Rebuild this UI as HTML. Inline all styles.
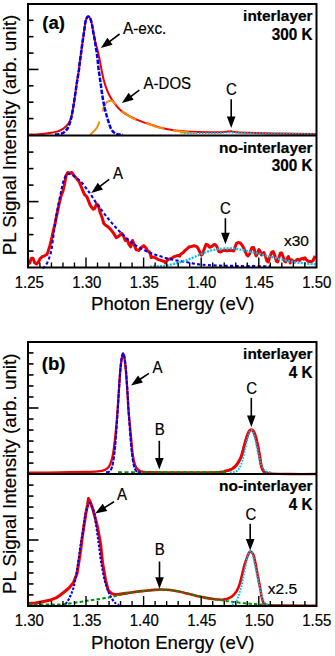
<!DOCTYPE html>
<html><head><meta charset="utf-8"><style>
html,body{margin:0;padding:0;background:#fff;}
svg{display:block;}
text{font-family:"Liberation Sans",sans-serif;fill:#000;stroke:#000;stroke-width:0.2px;}
</style></head><body>
<svg width="335" height="656" viewBox="0 0 335 656">
<rect x="0" y="0" width="335" height="656" fill="#fff"/>
<path d="M28.50,134.50 C29.75,134.48 33.70,134.50 36.00,134.40 C38.30,134.30 40.05,134.13 42.30,133.90 C44.55,133.67 47.03,133.38 49.50,133.00 C51.97,132.62 54.78,132.33 57.10,131.60 C59.42,130.87 61.48,129.98 63.40,128.60 C65.32,127.22 67.22,125.48 68.60,123.30 C69.98,121.12 70.87,118.55 71.70,115.50 C72.53,112.45 73.08,108.05 73.60,105.00 C74.12,101.95 74.25,100.95 74.80,97.20 C75.35,93.45 76.20,87.15 76.90,82.50 C77.60,77.85 78.52,72.70 79.00,69.30 C79.48,65.90 79.47,64.68 79.80,62.10 C80.13,59.52 80.65,56.38 81.00,53.80 C81.35,51.22 81.55,49.18 81.90,46.60 C82.25,44.02 82.70,41.08 83.10,38.30 C83.50,35.52 83.90,32.68 84.30,29.90 C84.70,27.12 85.05,23.67 85.50,21.60 C85.95,19.53 86.55,18.33 87.00,17.50 C87.45,16.67 87.82,16.65 88.20,16.60 C88.58,16.55 88.92,16.77 89.30,17.20 C89.68,17.63 90.03,17.88 90.50,19.20 C90.97,20.52 91.63,22.92 92.10,25.10 C92.57,27.28 92.87,29.90 93.30,32.30 C93.73,34.70 94.15,37.12 94.70,39.50 C95.25,41.88 95.98,44.22 96.60,46.60 C97.22,48.98 97.82,51.22 98.40,53.80 C98.98,56.38 99.57,59.40 100.10,62.10 C100.63,64.80 101.02,67.12 101.60,70.00 C102.18,72.88 102.70,76.03 103.60,79.40 C104.50,82.77 105.68,86.92 107.00,90.20 C108.32,93.48 109.85,96.42 111.50,99.10 C113.15,101.78 115.12,104.22 116.90,106.30 C118.68,108.38 120.12,109.97 122.20,111.60 C124.28,113.23 127.00,114.75 129.40,116.10 C131.80,117.45 134.22,118.65 136.60,119.70 C138.98,120.75 141.47,121.65 143.70,122.40 C145.93,123.15 147.40,123.37 150.00,124.20 C152.60,125.03 155.02,126.33 159.30,127.40 C163.58,128.47 170.25,129.87 175.70,130.60 C181.15,131.33 186.28,131.53 192.00,131.80 C197.72,132.07 205.00,132.13 210.00,132.20 C215.00,132.27 219.00,132.30 222.00,132.20 C225.00,132.10 226.33,131.73 228.00,131.60 C229.67,131.47 230.67,131.28 232.00,131.40 C233.33,131.52 233.00,132.07 236.00,132.30 C239.00,132.53 242.67,132.60 250.00,132.80 C257.33,133.00 269.00,133.30 280.00,133.50 C291.00,133.70 310.00,133.92 316.00,134.00" fill="none" stroke="#ee0000" stroke-width="2.0" stroke-linejoin="round" stroke-linecap="butt" />
<path d="M90.30,134.50 L90.38,134.43 L90.47,134.34 L90.57,134.24 L90.68,134.13 L90.81,134.02 L90.94,133.89 L91.08,133.75 L91.23,133.61 L91.38,133.47 L91.54,133.32 L91.70,133.16 L91.86,133.01 L92.03,132.85 L92.19,132.70 L92.34,132.55 L92.50,132.40 L92.66,132.25 L92.82,132.11 L92.98,131.96 L93.15,131.81 L93.32,131.65 L93.49,131.50 L93.66,131.35 L93.84,131.19 L94.01,131.03 L94.19,130.86 L94.36,130.70 L94.53,130.53 L94.71,130.35 L94.87,130.17 L95.04,129.99 L95.20,129.80 L95.36,129.61 L95.52,129.42 L95.68,129.22 L95.84,129.02 L95.99,128.82 L96.15,128.61 L96.30,128.41 L96.46,128.19 L96.61,127.98 L96.76,127.75 L96.90,127.53 L97.05,127.29 L97.19,127.06 L97.33,126.81 L97.47,126.56 L97.60,126.30 L97.73,126.03 L97.85,125.75 L97.98,125.47 L98.09,125.17 L98.21,124.87 L98.32,124.57 L98.43,124.25 L98.54,123.94 L98.65,123.62 L98.76,123.30 L98.87,122.98 L98.97,122.66 L99.08,122.34 L99.18,122.02 L99.29,121.71 L99.40,121.40 M102.60,111.60 L102.68,111.30 L102.76,111.00 L102.84,110.70 L102.91,110.41 L102.97,110.11 L103.04,109.81 L103.11,109.52 L103.17,109.22 L103.25,108.93 L103.32,108.64 L103.40,108.35 L103.48,108.06 L103.57,107.77 L103.67,107.48 L103.78,107.19 L103.90,106.90 L104.03,106.61 L104.16,106.31 L104.31,106.00 L104.46,105.69 L104.61,105.38 L104.77,105.07 L104.94,104.76 L105.11,104.46 L105.28,104.16 L105.46,103.87 L105.64,103.59 L105.83,103.32 L106.02,103.06 L106.21,102.82 L106.40,102.60 L106.60,102.40 L106.80,102.22 L107.01,102.05 L107.23,101.89 L107.46,101.74 L107.69,101.61 L107.92,101.49 L108.16,101.38 L108.40,101.28 L108.64,101.19 L108.88,101.11 L109.11,101.04 L109.34,100.98 L109.57,100.92 L109.79,100.87 L110.00,100.83 L110.20,100.80 L110.39,100.77 L110.57,100.74 L110.74,100.72 L110.91,100.71 L111.07,100.70 L111.22,100.70 L111.37,100.71 L111.53,100.72 L111.68,100.76 L111.83,100.80 L111.99,100.86 L112.15,100.93 L112.33,101.02 L112.51,101.13 L112.70,101.25 L112.90,101.40 L113.11,101.57 L113.33,101.76 L113.55,101.97 L113.78,102.20 L114.01,102.45 L114.25,102.72 L114.49,103.00 L114.74,103.29 L114.99,103.59 L115.25,103.90 L115.51,104.21 L115.78,104.53 M121.81,111.07 L122.20,111.40 L122.60,111.73 L123.01,112.05 L123.43,112.38 L123.87,112.70 L124.31,113.03 L124.76,113.35 L125.22,113.66 L125.68,113.98 L126.15,114.28 L126.62,114.59 L127.09,114.89 L127.56,115.18 L128.02,115.47 L128.49,115.75 L128.95,116.03 L129.40,116.30 L129.85,116.56 L130.30,116.82 L130.75,117.07 L131.20,117.31 L131.65,117.55 L132.10,117.78 L132.56,118.01 L133.01,118.24 L133.46,118.46 L133.91,118.67 L134.36,118.89 L134.81,119.09 L135.26,119.30 L135.70,119.50 L136.15,119.70 M145.63,123.21 L145.99,123.31 L146.35,123.42 L146.71,123.52 L147.08,123.62 L147.45,123.73 L147.84,123.84 L148.23,123.95 L148.64,124.07 L149.07,124.21 L149.53,124.35 L150.00,124.50 L150.49,124.66 L150.97,124.84 L151.46,125.02 L151.95,125.21 L152.45,125.41 L152.96,125.61 L153.48,125.82 L154.02,126.03 L154.58,126.24 L155.16,126.45 L155.77,126.66 L156.41,126.88 L157.07,127.09 L157.78,127.30 L158.52,127.50 L159.30,127.70 L160.14,127.90 L161.04,128.11 L161.99,128.32 L163.00,128.53 L164.04,128.74 M172.78,130.34 L173.80,130.51 L174.77,130.66 L175.70,130.80 L176.60,130.93 L177.49,131.04 L178.38,131.14 L179.26,131.24 L180.13,131.32 L180.98,131.40 L181.81,131.47 L182.62,131.53 L183.41,131.59 L184.18,131.64 L184.91,131.69 L185.60,131.74 L186.27,131.78 L186.89,131.82 L187.47,131.86 L188.00,131.90 L188.46,131.94 " fill="none" stroke="#ff8a00" stroke-width="2.0" stroke-linejoin="round" stroke-linecap="butt" />
<path d="M180,132.8 L197,133.0" fill="none" stroke="#ff8a00" stroke-width="1.5" stroke-linejoin="round" stroke-linecap="butt" />
<path d="M55.00,134.60 C55.70,134.53 57.80,134.52 59.20,134.20 C60.60,133.88 62.02,133.65 63.40,132.70 C64.78,131.75 66.28,130.60 67.50,128.50 C68.72,126.40 69.82,123.23 70.70,120.10 C71.58,116.97 72.12,113.52 72.80,109.70 C73.48,105.88 74.12,101.73 74.80,97.20 C75.48,92.67 76.20,87.15 76.90,82.50 C77.60,77.85 78.52,72.70 79.00,69.30 C79.48,65.90 79.47,64.68 79.80,62.10 C80.13,59.52 80.65,56.38 81.00,53.80 C81.35,51.22 81.55,49.18 81.90,46.60 C82.25,44.02 82.70,41.08 83.10,38.30 C83.50,35.52 83.90,32.68 84.30,29.90 C84.70,27.12 85.05,23.67 85.50,21.60 C85.95,19.53 86.55,18.33 87.00,17.50 C87.45,16.67 87.82,16.65 88.20,16.60 C88.58,16.55 88.92,16.77 89.30,17.20 C89.68,17.63 90.03,17.88 90.50,19.20 C90.97,20.52 91.63,22.92 92.10,25.10 C92.57,27.28 92.87,29.90 93.30,32.30 C93.73,34.70 94.30,37.12 94.70,39.50 C95.10,41.88 95.33,44.22 95.70,46.60 C96.07,48.98 96.57,51.40 96.90,53.80 C97.23,56.20 97.42,58.47 97.70,61.00 C97.98,63.53 98.13,65.42 98.60,69.00 C99.07,72.58 99.83,77.80 100.50,82.50 C101.17,87.20 101.83,92.67 102.60,97.20 C103.37,101.73 104.15,105.70 105.10,109.70 C106.05,113.70 107.25,117.90 108.30,121.20 C109.35,124.50 110.18,127.42 111.40,129.50 C112.62,131.58 114.20,132.85 115.60,133.70 C117.00,134.55 118.57,134.38 119.80,134.60 C121.03,134.82 122.47,134.93 123.00,135.00" fill="none" stroke="#0000ee" stroke-width="2.5" stroke-linejoin="round" stroke-linecap="butt" stroke-dasharray="4.5,1.5" />
<path d="M184.00,133.20 L185.00,133.20 L186.00,133.20 L187.00,133.20 L188.00,133.20 L189.00,133.20 L190.00,133.20 L191.00,133.20 L192.00,133.20 L193.00,133.20 L194.00,133.20 L195.00,133.20 L196.00,133.20 L197.00,133.20 L198.00,133.20 L199.00,133.20 L200.00,133.20 L201.00,133.20 L202.00,133.20 L203.00,133.20 L204.00,133.20 L205.00,133.20 L206.00,133.19 L207.00,133.19 L208.00,133.19 L209.00,133.18 L210.00,133.18 L211.00,133.17 L212.00,133.16 L213.00,133.14 L214.00,133.13 L215.00,133.11 L216.00,133.08 L217.00,133.05 L218.00,133.01 L219.00,132.97 L220.00,132.93 L221.00,132.88 L222.00,132.83 L223.00,132.78 L224.00,132.72 L225.00,132.67 L226.00,132.62 L227.00,132.58 L228.00,132.55 L229.00,132.52 L230.00,132.51 L231.00,132.50 L232.00,132.51 L233.00,132.52 L234.00,132.55 L235.00,132.58 L236.00,132.62 L237.00,132.67 L238.00,132.72 L239.00,132.78 L240.00,132.83 L241.00,132.88 L242.00,132.93 L243.00,132.97 L244.00,133.01 L245.00,133.05 L246.00,133.08 L247.00,133.11 L248.00,133.13 L249.00,133.14 L250.00,133.16 L251.00,133.18 L252.00,133.20 L253.00,133.22 L254.00,133.24 L255.00,133.26 L256.00,133.28 L257.00,133.29 L258.00,133.31 L259.00,133.32 L260.00,133.34 L261.00,133.35 L262.00,133.36 L263.00,133.38 L264.00,133.39 L265.00,133.40 L266.00,133.42 L267.00,133.43 L268.00,133.45 L269.00,133.46 L270.00,133.47 L271.00,133.49 L272.00,133.50 L273.00,133.51 L274.00,133.53 L275.00,133.54 L276.00,133.55 L277.00,133.57 L278.00,133.58 L279.00,133.60 L280.00,133.61 L281.00,133.62 L282.00,133.64 L283.00,133.65 L284.00,133.66 L285.00,133.68 L286.00,133.69 L287.00,133.70 L288.00,133.72 L289.00,133.73 L290.00,133.75 L291.00,133.76 L292.00,133.77 L293.00,133.79 L294.00,133.80 L295.00,133.81 L296.00,133.83 L297.00,133.84 L298.00,133.85 L299.00,133.87 L300.00,133.88 L301.00,133.90 L302.00,133.91 L303.00,133.92 L304.00,133.94 L305.00,133.95 L306.00,133.96 L307.00,133.98 L308.00,133.99 L309.00,134.00 L310.00,134.02 L311.00,134.03 L312.00,134.05 L313.00,134.06 L314.00,134.07 L315.00,134.09 L316.00,134.10" fill="none" stroke="#00c0f8" stroke-width="1.8" stroke-linejoin="round" stroke-linecap="butt" stroke-dasharray="1.5,1.5" />
<path d="M28.50,263.50 L29.80,263.00 L31.20,258.50 L33.00,258.20 L34.80,263.00 L36.60,263.90 L38.40,262.00 L40.20,258.50 L42.30,256.60 L44.50,255.80 L46.90,254.50 L48.10,251.50 L49.90,245.60 L52.10,236.50 L53.50,229.90 L54.90,224.50 L56.70,215.50 L59.30,203.00 L61.10,195.80 L62.90,191.30 L64.70,183.30 L66.20,175.20 L67.80,172.50 L70.10,173.10 L71.90,172.50 L73.70,175.20 L76.00,177.90 L79.00,181.50 L81.70,187.80 L84.40,194.40 L86.80,196.60 L88.60,201.10 L90.40,205.60 L93.10,209.20 L94.90,208.30 L96.60,203.80 L98.40,205.60 L100.20,212.80 L102.00,217.20 L103.80,223.50 L105.60,225.30 L108.30,227.10 L111.00,229.80 L113.70,233.40 L116.30,237.80 L119.00,236.00 L121.70,233.40 L123.50,236.00 L125.30,240.50 L127.10,239.60 L128.90,244.10 L130.70,246.80 L132.50,240.50 L134.30,245.00 L136.00,249.50 L138.70,250.40 L141.50,247.20 L143.70,245.70 L146.00,247.90 L147.50,250.90 L149.00,251.60 L150.40,253.90 L151.20,257.60 L152.70,256.90 L154.90,257.60 L157.20,259.10 L159.40,259.90 L161.60,260.60 L163.90,261.30 L165.40,262.80 L166.90,260.60 L169.10,259.10 L171.30,258.40 L173.60,256.90 L175.80,256.10 L178.10,255.40 L179.60,256.10 L181.00,253.90 L183.30,252.40 L185.50,250.10 L187.80,248.20 L189.50,246.70 L191.70,246.40 L194.00,245.70 L196.00,246.10 L197.80,247.90 L199.60,251.50 L201.40,255.10 L202.60,253.90 L204.40,248.50 L206.10,244.40 L207.90,245.00 L209.70,247.30 L211.50,246.70 L213.30,245.00 L215.10,244.40 L216.90,246.70 L218.70,251.50 L220.50,252.10 L222.30,250.90 L224.70,250.30 L227.00,250.90 L229.40,250.30 L231.80,250.50 L233.80,251.00 L235.10,247.00 L236.50,243.40 L238.30,242.50 L240.10,242.90 L241.80,244.70 L243.60,247.80 L245.40,251.90 L246.80,255.00 L248.10,255.90 L249.50,254.10 L250.80,250.50 L252.10,247.40 L253.50,247.40 L254.40,249.60 L255.30,253.70 L256.20,255.90 L257.50,253.20 L258.90,249.60 L260.20,251.40 L261.50,255.00 L262.60,253.20 L263.80,252.50 L265.60,256.50 L266.90,261.00 L268.30,261.90 L269.60,257.40 L271.80,252.10 L273.20,251.60 L274.50,254.70 L276.30,261.00 L277.70,261.90 L279.00,257.40 L280.40,253.00 L281.70,253.00 L283.00,256.50 L284.40,261.00 L285.70,261.90 L287.10,258.80 L288.40,256.50 L289.50,259.20 L290.20,263.00 L291.60,259.70 L292.90,261.00 L294.30,261.90 L295.60,261.00 L297.00,259.70 L298.30,259.20 L299.60,260.60 L301.00,258.80 L302.30,258.30 L303.70,259.20 L305.00,257.90 L306.40,259.70 L307.70,261.00 L309.00,261.50 L310.40,261.50 L311.70,261.50 L313.10,260.60 L314.00,258.30 L315.20,255.80" fill="none" stroke="#ee0000" stroke-width="3.0" stroke-linejoin="round" stroke-linecap="butt" />
<path d="M42.50,268.20 C42.83,268.00 43.82,267.70 44.50,267.00 C45.18,266.30 45.92,265.23 46.60,264.00 C47.28,262.77 47.82,261.87 48.60,259.60 C49.38,257.33 50.40,255.07 51.30,250.40 C52.20,245.73 53.10,237.72 54.00,231.60 C54.90,225.48 55.67,219.67 56.70,213.70 C57.73,207.73 59.17,200.87 60.20,195.80 C61.23,190.73 62.00,186.58 62.90,183.30 C63.80,180.02 64.70,177.65 65.60,176.10 C66.50,174.55 67.25,174.23 68.30,174.00 C69.35,173.77 70.55,174.05 71.90,174.70 C73.25,175.35 74.77,176.62 76.40,177.90 C78.03,179.18 79.92,180.45 81.70,182.40 C83.48,184.35 85.65,187.67 87.10,189.60 C88.55,191.53 88.97,191.92 90.40,194.00 C91.83,196.08 93.62,199.12 95.70,202.10 C97.78,205.08 100.50,208.77 102.90,211.90 C105.30,215.03 107.72,218.05 110.10,220.90 C112.48,223.75 114.82,226.47 117.20,229.00 C119.58,231.53 122.00,233.87 124.40,236.10 C126.80,238.33 129.22,240.52 131.60,242.40 C133.98,244.28 136.05,245.87 138.70,247.40 C141.35,248.93 144.80,250.40 147.50,251.60 C150.20,252.80 152.42,253.72 154.90,254.60 C157.38,255.48 159.90,256.15 162.40,256.90 C164.90,257.65 167.42,258.48 169.90,259.10 C172.38,259.72 174.82,260.15 177.30,260.60 C179.78,261.05 182.27,261.33 184.80,261.80 C187.33,262.27 189.98,262.95 192.50,263.40 C195.02,263.85 197.42,264.22 199.90,264.50 C202.38,264.78 203.67,264.90 207.40,265.10 C211.13,265.30 216.87,265.55 222.30,265.70 C227.73,265.85 232.05,265.90 240.00,266.00 C247.95,266.10 265.00,266.25 270.00,266.30" fill="none" stroke="#0000ee" stroke-width="2.1" stroke-linejoin="round" stroke-linecap="butt" stroke-dasharray="3.2,2.3" />
<path d="M150.00,266.60 C151.67,266.53 156.93,266.45 160.00,266.20 C163.07,265.95 165.52,265.62 168.40,265.10 C171.28,264.58 174.57,263.82 177.30,263.10 C180.03,262.38 182.27,261.68 184.80,260.80 C187.33,259.92 189.98,258.83 192.50,257.80 C195.02,256.77 197.42,255.63 199.90,254.60 C202.38,253.57 204.90,252.43 207.40,251.60 C209.90,250.77 212.42,250.10 214.90,249.60 C217.38,249.10 219.82,248.80 222.30,248.60 C224.78,248.40 227.68,248.38 229.80,248.40 C231.92,248.42 233.43,248.53 235.00,248.70 C236.57,248.87 237.37,249.05 239.20,249.40 C241.03,249.75 243.63,250.30 246.00,250.80 C248.37,251.30 251.07,251.87 253.40,252.40 C255.73,252.93 257.65,253.42 260.00,254.00 C262.35,254.58 265.00,255.25 267.50,255.90 C270.00,256.55 272.10,257.18 275.00,257.90 C277.90,258.62 282.07,259.57 284.90,260.20 C287.73,260.83 289.50,261.27 292.00,261.70 C294.50,262.13 297.40,262.48 299.90,262.80 C302.40,263.12 304.40,263.35 307.00,263.60 C309.60,263.85 314.08,264.18 315.50,264.30" fill="none" stroke="#00c0f8" stroke-width="2.3" stroke-linejoin="round" stroke-linecap="butt" stroke-dasharray="2,1.3" />
<path d="M28.50,472.70 C33.75,472.65 49.75,472.53 60.00,472.40 C70.25,472.27 83.33,472.10 90.00,471.90 C96.67,471.70 97.47,471.57 100.00,471.20 C102.53,470.83 103.70,470.45 105.20,469.70 C106.70,468.95 107.88,468.43 109.00,466.70 C110.12,464.97 111.17,461.78 111.90,459.30 C112.63,456.82 112.90,455.03 113.40,451.80 C113.90,448.57 114.40,444.38 114.90,439.90 C115.40,435.42 115.95,429.88 116.40,424.90 C116.85,419.92 117.20,415.48 117.60,410.00 C118.00,404.52 118.35,398.67 118.80,392.00 C119.25,385.33 119.82,375.50 120.30,370.00 C120.78,364.50 121.22,361.77 121.70,359.00 C122.18,356.23 122.68,353.40 123.15,353.40 C123.62,353.40 124.06,356.23 124.50,359.00 C124.94,361.77 125.32,364.50 125.80,370.00 C126.28,375.50 126.97,385.33 127.40,392.00 C127.83,398.67 127.98,404.52 128.40,410.00 C128.82,415.48 129.42,419.92 129.90,424.90 C130.38,429.88 130.82,434.92 131.30,439.90 C131.78,444.88 132.17,450.58 132.80,454.80 C133.43,459.02 134.22,462.72 135.10,465.20 C135.98,467.68 136.98,468.65 138.10,469.70 C139.22,470.75 139.82,471.08 141.80,471.50 C143.78,471.92 143.63,472.05 150.00,472.20 C156.37,472.35 170.00,472.37 180.00,472.40 C190.00,472.43 203.67,472.43 210.00,472.40 C216.33,472.37 215.83,472.33 218.00,472.20 C220.17,472.07 221.08,471.97 223.00,471.60 C224.92,471.23 227.75,470.63 229.50,470.00 C231.25,469.37 232.22,468.80 233.50,467.80 C234.78,466.80 235.92,465.88 237.20,464.00 C238.48,462.12 239.98,459.68 241.20,456.50 C242.42,453.32 243.48,448.40 244.50,444.90 C245.52,441.40 246.50,437.78 247.30,435.50 C248.10,433.22 248.63,432.15 249.30,431.20 C249.97,430.25 250.63,429.80 251.30,429.80 C251.97,429.80 252.65,430.25 253.30,431.20 C253.95,432.15 254.48,433.22 255.20,435.50 C255.92,437.78 256.88,441.60 257.60,444.90 C258.32,448.20 258.88,451.83 259.50,455.30 C260.12,458.77 260.63,463.08 261.30,465.70 C261.97,468.32 262.72,469.90 263.50,471.00 C264.28,472.10 264.58,471.87 266.00,472.30 C267.42,472.73 268.00,473.32 272.00,473.60 C276.00,473.88 282.67,473.93 290.00,474.00 C297.33,474.07 311.67,474.00 316.00,474.00" fill="none" stroke="#ee0000" stroke-width="2.3" stroke-linejoin="round" stroke-linecap="butt" />
<path d="M224.03,471.40 L224.58,471.28 L225.15,471.16 L225.73,471.03 L226.31,470.90 L226.89,470.76 L227.46,470.61 L228.02,470.47 L228.54,470.31 L229.04,470.16 L229.50,470.00 L229.92,469.84 L230.31,469.69 L230.68,469.53 L231.03,469.37 L231.36,469.21 L231.67,469.04 L231.98,468.86 L232.28,468.67 L232.58,468.48 L232.88,468.27 L233.19,468.04 L233.50,467.80 L233.82,467.55 L234.13,467.30 L234.44,467.05 L234.74,466.79 L235.05,466.52 L235.35,466.23 L235.65,465.93 L235.96,465.60 L236.26,465.25 L236.57,464.87 L236.88,464.45 L237.20,464.00 L237.53,463.52 L237.86,463.01 L238.20,462.48 L238.54,461.93 L238.88,461.34 L239.22,460.74 L239.57,460.10 L239.91,459.44 L240.24,458.75 L240.57,458.03 L240.89,457.28 L241.20,456.50 L241.50,455.67 L241.80,454.78 L242.09,453.84 L242.37,452.86 L242.65,451.85 L242.92,450.82 L243.20,449.78 L243.46,448.76 L243.73,447.74 L243.99,446.75 L244.24,445.80 L244.50,444.90 L244.75,444.02 L245.00,443.15 L245.25,442.28 L245.50,441.41 L245.74,440.57 L245.98,439.74 L246.22,438.94 L246.44,438.17 L246.67,437.44 L246.89,436.75 L247.10,436.10 L247.30,435.50 L247.49,434.95 L247.68,434.45 L247.86,434.00 L248.03,433.58 L248.19,433.20 L248.35,432.85 L248.51,432.53 L248.66,432.23 L248.82,431.95 L248.98,431.69 L249.14,431.44 L249.30,431.20 L249.47,430.97 L249.63,430.77 L249.80,430.58 L249.97,430.41 L250.13,430.27 L250.30,430.14 L250.47,430.04 L250.63,429.95 L250.80,429.89 L250.97,429.84 L251.13,429.81 L251.30,429.80 L251.47,429.81 L251.63,429.84 L251.80,429.89 L251.97,429.95 L252.14,430.04 L252.31,430.14 L252.47,430.27 L252.64,430.41 L252.81,430.58 L252.97,430.77 L253.14,430.97 L253.30,431.20 L253.46,431.44 L253.62,431.69 L253.77,431.95 L253.92,432.23 L254.07,432.53 L254.23,432.85 L254.38,433.20 L254.53,433.58 L254.69,434.00 L254.86,434.45 L255.02,434.95 L255.20,435.50 L255.38,436.10 L255.58,436.76 L255.78,437.47 L255.98,438.22 L256.19,439.00 L256.40,439.82 L256.61,440.65 L256.82,441.50 L257.02,442.36 L257.22,443.22 L257.42,444.07 L257.60,444.90 L257.78,445.73 L257.95,446.58 L258.11,447.43 L258.27,448.29 L258.43,449.16 L258.59,450.04 L258.74,450.92 L258.89,451.80 L259.04,452.68 L259.19,453.56 L259.35,454.43 L259.50,455.30 L259.65,456.18 L259.80,457.09 L259.95,458.02 L260.09,458.96 L260.24,459.89 L260.38,460.82 L260.53,461.73 L260.67,462.61 L260.82,463.46 L260.98,464.26 L261.14,465.01 L261.30,465.70 L261.47,466.33 L261.64,466.92 L261.81,467.48 L261.99,467.99 L262.17,468.47 L262.36,468.92 L262.54,469.33 L262.73,469.72 L262.92,470.08 L263.11,470.41 L263.30,470.71 L263.50,471.00 L263.69,471.25 L263.86,471.45 L264.02,471.61 L264.18,471.73 L264.34,471.83 L264.51,471.90 L264.70,471.96 L264.90,472.01 " fill="none" stroke="#ee0000" stroke-width="3.0" stroke-linejoin="round" stroke-linecap="butt" />
<path d="M118,472.4 L228,472.4" fill="none" stroke="#009000" stroke-width="2.2" stroke-linejoin="round" stroke-linecap="butt" stroke-dasharray="4,2.5" />
<path d="M106.00,472.26 L106.40,472.24 L106.80,472.22 L107.20,472.18 L107.60,472.12 L108.00,472.04 L108.40,471.93 L108.80,471.78 L109.20,471.58 L109.60,471.32 L110.00,470.96 L110.40,470.50 L110.80,469.92 L111.20,469.17 L111.60,468.23 L112.00,467.06 L112.40,465.63 L112.80,463.90 L113.20,461.84 L113.60,459.40 L114.00,456.55 L114.40,453.27 L114.80,449.53 L115.20,445.34 L115.60,440.68 L116.00,435.59 L116.40,430.09 L116.80,424.22 L117.20,418.05 L117.60,411.67 L118.00,405.15 L118.40,398.61 L118.80,392.15 L119.20,385.89 L119.60,379.93 L120.00,374.40 L120.40,369.38 L120.80,364.97 L121.20,361.24 L121.60,358.23 L122.00,355.98 L122.40,354.47 L122.80,353.68 L123.20,353.50 L123.60,353.82 L124.00,354.78 L124.40,356.47 L124.80,358.91 L125.20,362.11 L125.60,366.01 L126.00,370.58 L126.40,375.74 L126.80,381.39 L127.20,387.43 L127.60,393.75 L128.00,400.24 L128.40,406.79 L128.80,413.28 L129.20,419.62 L129.60,425.72 L130.00,431.50 L130.40,436.90 L130.80,441.89 L131.20,446.43 L131.60,450.51 L132.00,454.13 L132.40,457.30 L132.80,460.04 L133.20,462.39 L133.60,464.37 L134.00,466.02 L134.40,467.38 L134.80,468.48 L135.20,469.37 L135.60,470.08 L136.00,470.63 L136.40,471.06 L136.80,471.39 L137.20,471.64 L137.60,471.82 L138.00,471.96 L138.40,472.06 L138.80,472.14 L139.20,472.19 L139.60,472.22 L140.00,472.25 L140.40,472.27 L140.80,472.28" fill="none" stroke="#0000ee" stroke-width="2.1" stroke-linejoin="round" stroke-linecap="butt" stroke-dasharray="4,1.2" />
<path d="M230.00,472.27 L230.40,472.27 L230.80,472.26 L231.20,472.24 L231.60,472.23 L232.00,472.20 L232.40,472.18 L232.80,472.14 L233.20,472.10 L233.60,472.05 L234.00,471.98 L234.40,471.90 L234.80,471.80 L235.20,471.69 L235.60,471.54 L236.00,471.37 L236.40,471.17 L236.80,470.93 L237.20,470.64 L237.60,470.31 L238.00,469.93 L238.40,469.48 L238.80,468.97 L239.20,468.39 L239.60,467.72 L240.00,466.98 L240.40,466.15 L240.80,465.22 L241.20,464.20 L241.60,463.08 L242.00,461.86 L242.40,460.54 L242.80,459.12 L243.20,457.61 L243.60,456.02 L244.00,454.34 L244.40,452.60 L244.80,450.81 L245.20,448.97 L245.60,447.11 L246.00,445.25 L246.40,443.40 L246.80,441.58 L247.20,439.83 L247.60,438.16 L248.00,436.59 L248.40,435.14 L248.80,433.84 L249.20,432.71 L249.60,431.75 L250.00,430.99 L250.40,430.45 L250.80,430.11 L251.20,430.00 L251.60,430.11 L252.00,430.45 L252.40,430.99 L252.80,431.75 L253.20,432.71 L253.60,433.84 L254.00,435.14 L254.40,436.59 L254.80,438.16 L255.20,439.83 L255.60,441.58 L256.00,443.40 L256.40,445.25 L256.80,447.11 L257.20,448.97 L257.60,450.81 L258.00,452.60 L258.40,454.34 L258.80,456.02 L259.20,457.61 L259.60,459.12 L260.00,460.54 L260.40,461.86 L260.80,463.08 L261.20,464.20 L261.60,465.22 L262.00,466.15 L262.40,466.98 L262.80,467.72 L263.20,468.39 L263.60,468.97 L264.00,469.48 L264.40,469.93 L264.80,470.31 L265.20,470.64 L265.60,470.93 L266.00,471.17 L266.40,471.37 L266.80,471.54 L267.20,471.69 L267.60,471.80 L268.00,471.90 L268.40,471.98 L268.80,472.05 L269.20,472.10 L269.60,472.14 L270.00,472.18 L270.40,472.20 L270.80,472.23 L271.20,472.24 L271.60,472.26 L272.00,472.27" fill="none" stroke="#00c0f8" stroke-width="2.0" stroke-linejoin="round" stroke-linecap="butt" stroke-dasharray="1.6,1.4" />
<path d="M28.50,603.50 L35.20,603.00 L42.30,601.70 L49.50,600.30 L56.70,597.60 L60.00,595.30 L63.60,592.50 L69.00,588.00 L73.40,582.60 L77.00,573.70 L79.30,559.30 L81.10,547.00 L82.20,537.80 L84.00,525.80 L85.80,513.90 L87.60,504.30 L88.50,498.60 L90.50,502.50 L92.40,507.90 L94.80,516.30 L97.20,525.80 L99.50,537.80 L100.80,546.00 L102.60,562.90 L105.70,580.80 L108.40,590.70 L111.80,593.60 L114.50,594.40 L119.00,594.30 L127.90,592.90" fill="none" stroke="#ee0000" stroke-width="3.0" stroke-linejoin="round" stroke-linecap="butt" />
<path d="M127.90,592.90 C129.40,592.68 133.92,591.97 136.90,591.60 C139.88,591.23 142.82,590.98 145.80,590.70 C148.78,590.42 152.40,590.10 154.80,589.90 C157.20,589.70 157.67,589.48 160.20,589.50 C162.73,589.52 166.87,589.65 170.00,590.00 C173.13,590.35 176.02,590.98 179.00,591.60 C181.98,592.22 184.92,592.98 187.90,593.70 C190.88,594.42 193.92,595.20 196.90,595.90 C199.88,596.60 202.82,597.33 205.80,597.90 C208.78,598.47 212.12,599.00 214.80,599.30 C217.48,599.60 220.12,599.70 221.90,599.70 C223.68,599.70 224.48,599.50 225.50,599.30 C226.52,599.10 226.83,599.05 228.00,598.50 C229.17,597.95 231.02,597.30 232.50,596.00 C233.98,594.70 235.67,592.82 236.90,590.70 C238.13,588.58 239.02,586.03 239.90,583.30 C240.78,580.57 241.45,577.28 242.20,574.30 C242.95,571.32 243.53,568.38 244.40,565.40 C245.27,562.42 246.65,558.47 247.40,556.40 C248.15,554.33 248.40,553.82 248.90,553.00 C249.40,552.18 249.90,551.57 250.40,551.50 C250.90,551.43 251.40,552.03 251.90,552.60 C252.40,553.17 252.78,553.02 253.40,554.90 C254.02,556.78 254.87,560.42 255.60,563.90 C256.33,567.38 257.05,571.82 257.80,575.80 C258.55,579.78 259.47,584.32 260.10,587.80 C260.73,591.28 261.03,594.22 261.60,596.70 C262.17,599.18 262.88,601.40 263.50,602.70 C264.12,604.00 264.22,604.08 265.30,604.50 C266.38,604.92 265.88,605.02 270.00,605.20 C274.12,605.38 282.33,605.50 290.00,605.60 C297.67,605.70 311.67,605.77 316.00,605.80" fill="none" stroke="#ee0000" stroke-width="2.6" stroke-linejoin="round" stroke-linecap="butt" />
<path d="M28.50,604.60 C32.08,604.58 43.85,604.58 50.00,604.50 C56.15,604.42 59.25,604.72 65.40,604.10 C71.55,603.48 79.73,601.88 86.90,600.80 C94.07,599.72 103.05,598.57 108.40,597.60 C113.75,596.63 115.40,595.82 119.00,595.00 C122.60,594.18 125.53,593.42 130.00,592.70 C134.47,591.98 140.77,591.22 145.80,590.70 C150.83,590.18 155.42,589.62 160.20,589.60 C164.98,589.58 169.88,589.95 174.50,590.60 C179.12,591.25 182.68,592.30 187.90,593.50 C193.12,594.70 200.13,596.67 205.80,597.80 C211.47,598.93 217.87,599.68 221.90,600.30 C225.93,600.92 225.75,600.97 230.00,601.50 C234.25,602.03 242.02,602.98 247.40,603.50 C252.78,604.02 256.87,604.25 262.30,604.60 C267.73,604.95 271.05,605.40 280.00,605.60 C288.95,605.80 310.00,605.77 316.00,605.80" fill="none" stroke="#009000" stroke-width="2.0" stroke-linejoin="round" stroke-linecap="butt" stroke-dasharray="3.5,2.2" />
<path d="M62.00,605.50 C62.57,605.27 64.23,605.23 65.40,604.10 C66.57,602.97 67.67,601.38 69.00,598.70 C70.33,596.02 72.07,592.77 73.40,588.00 C74.73,583.23 75.80,577.27 77.00,570.10 C78.20,562.93 79.78,550.38 80.60,545.00 C81.42,539.62 81.38,541.00 81.90,537.80 C82.42,534.60 83.10,529.78 83.70,525.80 C84.30,521.82 84.80,517.28 85.50,513.90 C86.20,510.52 87.20,507.30 87.90,505.50 C88.60,503.70 89.00,502.90 89.70,503.10 C90.40,503.30 91.30,504.82 92.10,506.70 C92.90,508.58 93.87,511.62 94.50,514.40 C95.13,517.18 95.40,519.97 95.90,523.40 C96.40,526.83 96.98,531.23 97.50,535.00 C98.02,538.77 98.38,541.35 99.00,546.00 C99.62,550.65 100.23,557.10 101.20,562.90 C102.17,568.70 103.60,576.02 104.80,580.80 C106.00,585.58 107.22,588.62 108.40,591.60 C109.58,594.58 110.72,596.77 111.90,598.70 C113.08,600.63 114.30,602.15 115.50,603.20 C116.70,604.25 118.50,604.70 119.10,605.00" fill="none" stroke="#0000ee" stroke-width="2.1" stroke-linejoin="round" stroke-linecap="butt" stroke-dasharray="2.4,1.6" />
<path d="M232.00,604.80 C232.57,604.45 234.45,603.80 235.40,602.70 C236.35,601.60 236.82,600.43 237.70,598.20 C238.58,595.97 239.70,593.03 240.70,589.30 C241.70,585.57 242.72,580.53 243.70,575.80 C244.68,571.07 245.80,564.62 246.60,560.90 C247.40,557.18 247.87,555.12 248.50,553.50 C249.13,551.88 249.77,551.20 250.40,551.20 C251.03,551.20 251.68,551.88 252.30,553.50 C252.92,555.12 253.30,557.18 254.10,560.90 C254.90,564.62 256.10,571.07 257.10,575.80 C258.10,580.53 259.10,585.32 260.10,589.30 C261.10,593.28 261.98,597.22 263.10,599.70 C264.22,602.18 265.65,603.32 266.80,604.20 C267.95,605.08 269.47,604.87 270.00,605.00" fill="none" stroke="#00c0f8" stroke-width="2.0" stroke-linejoin="round" stroke-linecap="butt" stroke-dasharray="1.6,1.4" />
<rect x="28.0" y="4" width="288.50" height="263.5" fill="none" stroke="#000" stroke-width="2"/>
<line x1="28.0" y1="135.5" x2="316.50" y2="135.5" stroke="#000" stroke-width="2"/>
<line x1="39.92" y1="267.5" x2="39.92" y2="262.5" stroke="#000" stroke-width="1.4"/>
<line x1="51.44" y1="267.5" x2="51.44" y2="262.5" stroke="#000" stroke-width="1.4"/>
<line x1="62.96" y1="267.5" x2="62.96" y2="262.5" stroke="#000" stroke-width="1.4"/>
<line x1="74.48" y1="267.5" x2="74.48" y2="262.5" stroke="#000" stroke-width="1.4"/>
<line x1="86.00" y1="267.5" x2="86.00" y2="257.5" stroke="#000" stroke-width="1.4"/>
<line x1="97.52" y1="267.5" x2="97.52" y2="262.5" stroke="#000" stroke-width="1.4"/>
<line x1="109.04" y1="267.5" x2="109.04" y2="262.5" stroke="#000" stroke-width="1.4"/>
<line x1="120.56" y1="267.5" x2="120.56" y2="262.5" stroke="#000" stroke-width="1.4"/>
<line x1="132.08" y1="267.5" x2="132.08" y2="262.5" stroke="#000" stroke-width="1.4"/>
<line x1="143.60" y1="267.5" x2="143.60" y2="257.5" stroke="#000" stroke-width="1.4"/>
<line x1="155.12" y1="267.5" x2="155.12" y2="262.5" stroke="#000" stroke-width="1.4"/>
<line x1="166.64" y1="267.5" x2="166.64" y2="262.5" stroke="#000" stroke-width="1.4"/>
<line x1="178.16" y1="267.5" x2="178.16" y2="262.5" stroke="#000" stroke-width="1.4"/>
<line x1="189.68" y1="267.5" x2="189.68" y2="262.5" stroke="#000" stroke-width="1.4"/>
<line x1="201.20" y1="267.5" x2="201.20" y2="257.5" stroke="#000" stroke-width="1.4"/>
<line x1="212.72" y1="267.5" x2="212.72" y2="262.5" stroke="#000" stroke-width="1.4"/>
<line x1="224.24" y1="267.5" x2="224.24" y2="262.5" stroke="#000" stroke-width="1.4"/>
<line x1="235.76" y1="267.5" x2="235.76" y2="262.5" stroke="#000" stroke-width="1.4"/>
<line x1="247.28" y1="267.5" x2="247.28" y2="262.5" stroke="#000" stroke-width="1.4"/>
<line x1="258.80" y1="267.5" x2="258.80" y2="257.5" stroke="#000" stroke-width="1.4"/>
<line x1="270.32" y1="267.5" x2="270.32" y2="262.5" stroke="#000" stroke-width="1.4"/>
<line x1="281.84" y1="267.5" x2="281.84" y2="262.5" stroke="#000" stroke-width="1.4"/>
<line x1="293.36" y1="267.5" x2="293.36" y2="262.5" stroke="#000" stroke-width="1.4"/>
<line x1="304.88" y1="267.5" x2="304.88" y2="262.5" stroke="#000" stroke-width="1.4"/>
<line x1="28.0" y1="20.30" x2="33.50" y2="20.30" stroke="#000" stroke-width="1.6"/>
<line x1="28.0" y1="36.68" x2="33.50" y2="36.68" stroke="#000" stroke-width="1.6"/>
<line x1="28.0" y1="53.06" x2="33.50" y2="53.06" stroke="#000" stroke-width="1.6"/>
<line x1="28.0" y1="69.44" x2="38.50" y2="69.44" stroke="#000" stroke-width="1.6"/>
<line x1="28.0" y1="85.82" x2="33.50" y2="85.82" stroke="#000" stroke-width="1.6"/>
<line x1="28.0" y1="102.20" x2="33.50" y2="102.20" stroke="#000" stroke-width="1.6"/>
<line x1="28.0" y1="118.58" x2="33.50" y2="118.58" stroke="#000" stroke-width="1.6"/>
<line x1="28.0" y1="152.10" x2="33.50" y2="152.10" stroke="#000" stroke-width="1.6"/>
<line x1="28.0" y1="168.60" x2="33.50" y2="168.60" stroke="#000" stroke-width="1.6"/>
<line x1="28.0" y1="185.10" x2="33.50" y2="185.10" stroke="#000" stroke-width="1.6"/>
<line x1="28.0" y1="201.60" x2="38.50" y2="201.60" stroke="#000" stroke-width="1.6"/>
<line x1="28.0" y1="218.10" x2="33.50" y2="218.10" stroke="#000" stroke-width="1.6"/>
<line x1="28.0" y1="234.60" x2="33.50" y2="234.60" stroke="#000" stroke-width="1.6"/>
<line x1="28.0" y1="251.10" x2="33.50" y2="251.10" stroke="#000" stroke-width="1.6"/>
<rect x="28.0" y="342" width="288.50" height="264.0" fill="none" stroke="#000" stroke-width="2"/>
<line x1="28.0" y1="474" x2="316.50" y2="474" stroke="#000" stroke-width="2"/>
<line x1="39.92" y1="606.0" x2="39.92" y2="601.0" stroke="#000" stroke-width="1.4"/>
<line x1="51.44" y1="606.0" x2="51.44" y2="601.0" stroke="#000" stroke-width="1.4"/>
<line x1="62.96" y1="606.0" x2="62.96" y2="601.0" stroke="#000" stroke-width="1.4"/>
<line x1="74.48" y1="606.0" x2="74.48" y2="601.0" stroke="#000" stroke-width="1.4"/>
<line x1="86.00" y1="606.0" x2="86.00" y2="596.0" stroke="#000" stroke-width="1.4"/>
<line x1="97.52" y1="606.0" x2="97.52" y2="601.0" stroke="#000" stroke-width="1.4"/>
<line x1="109.04" y1="606.0" x2="109.04" y2="601.0" stroke="#000" stroke-width="1.4"/>
<line x1="120.56" y1="606.0" x2="120.56" y2="601.0" stroke="#000" stroke-width="1.4"/>
<line x1="132.08" y1="606.0" x2="132.08" y2="601.0" stroke="#000" stroke-width="1.4"/>
<line x1="143.60" y1="606.0" x2="143.60" y2="596.0" stroke="#000" stroke-width="1.4"/>
<line x1="155.12" y1="606.0" x2="155.12" y2="601.0" stroke="#000" stroke-width="1.4"/>
<line x1="166.64" y1="606.0" x2="166.64" y2="601.0" stroke="#000" stroke-width="1.4"/>
<line x1="178.16" y1="606.0" x2="178.16" y2="601.0" stroke="#000" stroke-width="1.4"/>
<line x1="189.68" y1="606.0" x2="189.68" y2="601.0" stroke="#000" stroke-width="1.4"/>
<line x1="201.20" y1="606.0" x2="201.20" y2="596.0" stroke="#000" stroke-width="1.4"/>
<line x1="212.72" y1="606.0" x2="212.72" y2="601.0" stroke="#000" stroke-width="1.4"/>
<line x1="224.24" y1="606.0" x2="224.24" y2="601.0" stroke="#000" stroke-width="1.4"/>
<line x1="235.76" y1="606.0" x2="235.76" y2="601.0" stroke="#000" stroke-width="1.4"/>
<line x1="247.28" y1="606.0" x2="247.28" y2="601.0" stroke="#000" stroke-width="1.4"/>
<line x1="258.80" y1="606.0" x2="258.80" y2="596.0" stroke="#000" stroke-width="1.4"/>
<line x1="270.32" y1="606.0" x2="270.32" y2="601.0" stroke="#000" stroke-width="1.4"/>
<line x1="281.84" y1="606.0" x2="281.84" y2="601.0" stroke="#000" stroke-width="1.4"/>
<line x1="293.36" y1="606.0" x2="293.36" y2="601.0" stroke="#000" stroke-width="1.4"/>
<line x1="304.88" y1="606.0" x2="304.88" y2="601.0" stroke="#000" stroke-width="1.4"/>
<line x1="28.0" y1="352.90" x2="33.50" y2="352.90" stroke="#000" stroke-width="1.6"/>
<line x1="28.0" y1="363.92" x2="33.50" y2="363.92" stroke="#000" stroke-width="1.6"/>
<line x1="28.0" y1="374.94" x2="33.50" y2="374.94" stroke="#000" stroke-width="1.6"/>
<line x1="28.0" y1="385.96" x2="33.50" y2="385.96" stroke="#000" stroke-width="1.6"/>
<line x1="28.0" y1="396.98" x2="33.50" y2="396.98" stroke="#000" stroke-width="1.6"/>
<line x1="28.0" y1="408.00" x2="38.50" y2="408.00" stroke="#000" stroke-width="1.6"/>
<line x1="28.0" y1="419.02" x2="33.50" y2="419.02" stroke="#000" stroke-width="1.6"/>
<line x1="28.0" y1="430.04" x2="33.50" y2="430.04" stroke="#000" stroke-width="1.6"/>
<line x1="28.0" y1="441.06" x2="33.50" y2="441.06" stroke="#000" stroke-width="1.6"/>
<line x1="28.0" y1="452.08" x2="33.50" y2="452.08" stroke="#000" stroke-width="1.6"/>
<line x1="28.0" y1="463.10" x2="33.50" y2="463.10" stroke="#000" stroke-width="1.6"/>
<line x1="28.0" y1="485.10" x2="33.50" y2="485.10" stroke="#000" stroke-width="1.6"/>
<line x1="28.0" y1="496.08" x2="33.50" y2="496.08" stroke="#000" stroke-width="1.6"/>
<line x1="28.0" y1="507.06" x2="33.50" y2="507.06" stroke="#000" stroke-width="1.6"/>
<line x1="28.0" y1="518.04" x2="33.50" y2="518.04" stroke="#000" stroke-width="1.6"/>
<line x1="28.0" y1="529.02" x2="33.50" y2="529.02" stroke="#000" stroke-width="1.6"/>
<line x1="28.0" y1="540.00" x2="38.50" y2="540.00" stroke="#000" stroke-width="1.6"/>
<line x1="28.0" y1="550.98" x2="33.50" y2="550.98" stroke="#000" stroke-width="1.6"/>
<line x1="28.0" y1="561.96" x2="33.50" y2="561.96" stroke="#000" stroke-width="1.6"/>
<line x1="28.0" y1="572.94" x2="33.50" y2="572.94" stroke="#000" stroke-width="1.6"/>
<line x1="28.0" y1="583.92" x2="33.50" y2="583.92" stroke="#000" stroke-width="1.6"/>
<line x1="28.0" y1="594.90" x2="33.50" y2="594.90" stroke="#000" stroke-width="1.6"/>
<text transform="translate(29.3,287.9) scale(1.0,1.05)" font-size="15" font-weight="normal" text-anchor="middle" >1.25</text>
<text transform="translate(86.8,287.9) scale(1.0,1.05)" font-size="15" font-weight="normal" text-anchor="middle" >1.30</text>
<text transform="translate(144.3,287.9) scale(1.0,1.05)" font-size="15" font-weight="normal" text-anchor="middle" >1.35</text>
<text transform="translate(201.8,287.9) scale(1.0,1.05)" font-size="15" font-weight="normal" text-anchor="middle" >1.40</text>
<text transform="translate(259.3,287.9) scale(1.0,1.05)" font-size="15" font-weight="normal" text-anchor="middle" >1.45</text>
<text transform="translate(316.8,287.9) scale(1.0,1.05)" font-size="15" font-weight="normal" text-anchor="middle" >1.50</text>
<text transform="translate(29.3,626.4) scale(1.0,1.05)" font-size="15" font-weight="normal" text-anchor="middle" >1.30</text>
<text transform="translate(86.8,626.4) scale(1.0,1.05)" font-size="15" font-weight="normal" text-anchor="middle" >1.35</text>
<text transform="translate(144.3,626.4) scale(1.0,1.05)" font-size="15" font-weight="normal" text-anchor="middle" >1.40</text>
<text transform="translate(201.8,626.4) scale(1.0,1.05)" font-size="15" font-weight="normal" text-anchor="middle" >1.45</text>
<text transform="translate(259.3,626.4) scale(1.0,1.05)" font-size="15" font-weight="normal" text-anchor="middle" >1.50</text>
<text transform="translate(316.8,626.4) scale(1.0,1.05)" font-size="15" font-weight="normal" text-anchor="middle" >1.55</text>
<text transform="translate(172.7,310.0) scale(1.0,1.0)" font-size="18.6" font-weight="normal" text-anchor="middle" >Photon Energy (eV)</text>
<text transform="translate(172.7,648.9) scale(1.0,1.0)" font-size="18.6" font-weight="normal" text-anchor="middle" >Photon Energy (eV)</text>
<text x="0" y="0" font-size="18.8" text-anchor="middle" transform="translate(16.1,135.05) rotate(-90)">PL Signal Intensity (arb. unit)</text>
<text x="0" y="0" font-size="18.8" text-anchor="middle" transform="translate(16.1,473.75) rotate(-90)">PL Signal Intensity (arb. unit)</text>
<text transform="translate(42.3,29.2) scale(1.03,1.0)" font-size="18" font-weight="bold" text-anchor="start" >(a)</text>
<text transform="translate(41.8,369.5) scale(1.03,1.0)" font-size="18" font-weight="bold" text-anchor="start" >(b)</text>
<text transform="translate(312.6,21.0) scale(1.0,0.99)" font-size="15.45" font-weight="bold" text-anchor="end" >interlayer</text>
<text transform="translate(312.6,39.5) scale(1.0,1.09)" font-size="15.3" font-weight="bold" text-anchor="end" >300 K</text>
<text transform="translate(312.6,152.5) scale(1.0,0.99)" font-size="15.45" font-weight="bold" text-anchor="end" >no-interlayer</text>
<text transform="translate(312.6,171.0) scale(1.0,1.09)" font-size="15.3" font-weight="bold" text-anchor="end" >300 K</text>
<text transform="translate(312.6,359.0) scale(1.0,0.99)" font-size="15.45" font-weight="bold" text-anchor="end" >interlayer</text>
<text transform="translate(312.6,377.5) scale(1.0,1.09)" font-size="15.3" font-weight="bold" text-anchor="end" >4 K</text>
<text transform="translate(312.6,491.0) scale(1.0,0.99)" font-size="15.45" font-weight="bold" text-anchor="end" >no-interlayer</text>
<text transform="translate(312.6,509.5) scale(1.0,1.09)" font-size="15.3" font-weight="bold" text-anchor="end" >4 K</text>
<text transform="translate(123.0,33.9) scale(1.0,1.04)" font-size="15.3" font-weight="normal" text-anchor="start" >A-exc.</text>
<line x1="119.60" y1="34.00" x2="109.20" y2="41.80" stroke="#000" stroke-width="1.6"/>
<polygon points="100.80,48.10 107.42,37.76 112.58,44.64" fill="#000"/>
<text transform="translate(143.6,88.8) scale(1.0,1.08)" font-size="15" font-weight="normal" text-anchor="start" >A-DOS</text>
<line x1="139.30" y1="90.20" x2="130.36" y2="96.78" stroke="#000" stroke-width="1.6"/>
<polygon points="121.90,103.00 128.62,92.72 133.71,99.65" fill="#000"/>
<text transform="translate(231.3,95) scale(1.0,1.08)" font-size="15" font-weight="normal" text-anchor="middle" >C</text>
<line x1="231.20" y1="99.20" x2="231.20" y2="117.50" stroke="#000" stroke-width="1.6"/>
<polygon points="231.20,128.00 226.90,116.50 235.50,116.50" fill="#000"/>
<text transform="translate(118,178.8) scale(1.0,1.08)" font-size="15" font-weight="normal" text-anchor="middle" >A</text>
<line x1="109.20" y1="179.30" x2="99.62" y2="186.69" stroke="#000" stroke-width="1.6"/>
<polygon points="91.30,193.10 97.78,182.67 103.03,189.48" fill="#000"/>
<text transform="translate(225.3,214.2) scale(1.0,1.08)" font-size="15" font-weight="normal" text-anchor="middle" >C</text>
<line x1="225.40" y1="218.20" x2="225.40" y2="233.70" stroke="#000" stroke-width="1.6"/>
<polygon points="225.40,244.20 221.10,232.70 229.70,232.70" fill="#000"/>
<text transform="translate(296.4,246.4) scale(1.0,1.0)" font-size="15.5" font-weight="normal" text-anchor="middle" >x30</text>
<text transform="translate(157.4,372.5) scale(1.0,1.08)" font-size="15" font-weight="normal" text-anchor="middle" >A</text>
<line x1="148.90" y1="373.30" x2="139.70" y2="379.52" stroke="#000" stroke-width="1.6"/>
<polygon points="131.00,385.40 138.12,375.40 142.94,382.52" fill="#000"/>
<text transform="translate(159.7,434.9) scale(1.0,1.08)" font-size="15" font-weight="normal" text-anchor="middle" >B</text>
<line x1="159.30" y1="440.80" x2="159.30" y2="458.90" stroke="#000" stroke-width="1.6"/>
<polygon points="159.30,469.40 155.00,457.90 163.60,457.90" fill="#000"/>
<text transform="translate(251.6,394.3) scale(1.0,1.08)" font-size="15" font-weight="normal" text-anchor="middle" >C</text>
<line x1="251.30" y1="397.90" x2="251.30" y2="416.50" stroke="#000" stroke-width="1.6"/>
<polygon points="251.30,427.00 247.00,415.50 255.60,415.50" fill="#000"/>
<text transform="translate(122.0,500) scale(1.0,1.08)" font-size="15" font-weight="normal" text-anchor="middle" >A</text>
<line x1="114.00" y1="501.80" x2="104.14" y2="507.89" stroke="#000" stroke-width="1.6"/>
<polygon points="95.20,513.40 102.73,503.70 107.24,511.02" fill="#000"/>
<text transform="translate(159.8,555) scale(1.0,1.08)" font-size="15" font-weight="normal" text-anchor="middle" >B</text>
<line x1="159.50" y1="561.50" x2="159.50" y2="578.30" stroke="#000" stroke-width="1.6"/>
<polygon points="159.50,588.80 155.20,577.30 163.80,577.30" fill="#000"/>
<text transform="translate(250.9,520.2) scale(1.0,1.08)" font-size="15" font-weight="normal" text-anchor="middle" >C</text>
<line x1="250.20" y1="523.80" x2="250.20" y2="540.10" stroke="#000" stroke-width="1.6"/>
<polygon points="250.20,550.60 245.90,539.10 254.50,539.10" fill="#000"/>
<text transform="translate(282.5,594.2) scale(1.0,1.0)" font-size="15.5" font-weight="normal" text-anchor="middle" >x2.5</text>
</svg>
</body></html>
